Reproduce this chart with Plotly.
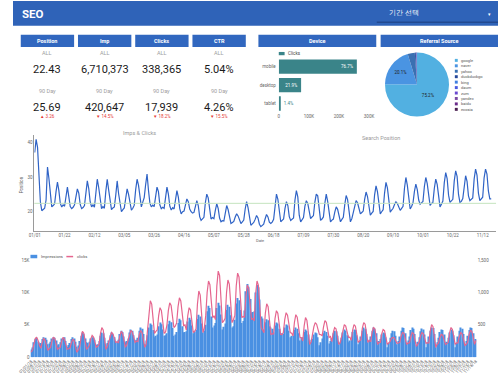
import plotly.graph_objects as go
import pandas as pd

W, H = 500, 380
def X(px): return px / W
def Y(py): return 1 - py / H

# ---------------- data ----------------
kpi_names = ["Position", "Imp", "Clicks", "CTR"]
kpi_all = ["22.43", "6,710,373", "338,365", "5.04%"]
kpi_90 = ["25.69", "420,647", "17,939", "4.26%"]
kpi_delta = ["▲ 3.26", "▼ 14.5%", "▼ 18.2%", "▼ 15.5%"]
avg_position = 22.43

device_cats = ["mobile", "desktop", "tablet"]
device_clicks = [259500, 74200, 4665]

ref_labels = ["google", "naver", "yahoo", "duckduckgo", "bing", "daum", "zum", "yandex", "baidu", "ecosia"]
ref_share = [75.2, 20.1, 3.6, 0.5, 0.25, 0.15, 0.08, 0.05, 0.04, 0.03]
ref_colors = ["#52b0e1", "#4a94e2", "#3a70b2", "#26489a", "#3f7fe0", "#4a5ae0",
              "#6a48d0", "#7a4aa2", "#6a2a8a", "#4a2050"]

position = [
    37.1, 40.9, 38.6, 30.2, 22.8, 20.3, 20.6,
    21.0, 23.4, 32.9, 29.6, 24.5, 21.4, 21.8,
    22.3, 25.8, 28.6, 26.1, 22.4, 21.4, 22.0,
    21.6, 24.9, 27.1, 24.3, 21.5, 20.9, 21.3,
    22.0, 24.2, 26.6, 25.4, 22.1, 20.9, 21.2,
    21.8, 25.6, 28.9, 26.7, 22.9, 21.4, 22.0,
    21.3, 26.2, 29.4, 27.0, 23.1, 20.9, 21.5,
    21.0, 25.9, 29.4, 26.3, 22.6, 20.6, 21.1,
    21.4, 24.8, 28.9, 25.2, 21.7, 20.0, 20.6,
    21.1, 23.9, 26.6, 25.0, 22.3, 20.5, 21.0,
    21.9, 26.4, 29.4, 27.6, 24.0, 21.4, 22.8,
    24.1, 27.8, 30.9, 26.2, 22.5, 21.4, 21.9,
    21.5, 24.7, 27.1, 25.8, 22.0, 20.9, 21.3,
    21.0, 24.3, 27.1, 25.1, 21.6, 20.5, 21.2,
    20.8, 23.6, 26.1, 24.2, 20.9, 19.4, 20.0,
    20.2, 22.1, 23.7, 22.9, 20.8, 20.0, 19.6,
    19.8, 21.6, 23.2, 21.8, 18.6, 17.5, 18.0,
    18.4, 22.6, 25.1, 24.0, 20.1, 17.9, 18.3,
    18.0, 20.4, 22.3, 21.0, 18.2, 17.1, 17.4,
    17.3, 19.8, 21.8, 20.6, 17.9, 16.6, 16.9,
    17.2, 18.5, 19.4, 18.8, 17.3, 16.6, 17.1,
    17.6, 20.8, 22.9, 21.2, 17.8, 16.1, 16.5,
    16.9, 17.8, 18.9, 18.2, 16.4, 15.7, 16.0,
    16.4, 17.9, 19.2, 18.5, 17.0, 16.6, 17.0,
    17.8, 22.3, 25.1, 23.6, 19.2, 17.1, 17.5,
    17.9, 21.0, 22.9, 21.8, 18.6, 17.5, 17.8,
    18.2, 23.4, 26.1, 24.3, 19.0, 17.1, 17.6,
    18.3, 21.6, 23.2, 22.4, 19.5, 18.0, 18.5,
    18.9, 22.8, 25.1, 24.6, 21.0, 17.5, 17.9,
    18.5, 22.4, 25.1, 23.0, 19.2, 17.1, 17.6,
    17.9, 19.9, 21.4, 20.7, 18.3, 17.1, 17.8,
    18.4, 22.0, 24.7, 23.5, 19.6, 17.1, 18.0,
    19.8, 21.9, 23.2, 22.6, 20.5, 19.4, 19.8,
    20.2, 23.6, 25.7, 24.4, 21.0, 19.0, 19.6,
    20.1, 24.9, 27.5, 25.8, 21.6, 19.4, 20.0,
    20.6, 25.4, 28.5, 26.9, 22.3, 19.9, 20.5,
    21.0, 22.1, 22.9, 22.4, 21.1, 20.4, 21.0,
    21.6, 26.8, 29.9, 27.7, 23.0, 20.8, 21.5,
    22.6, 25.9, 28.0, 26.4, 23.4, 22.2, 22.6,
    23.0, 27.3, 29.9, 28.1, 23.9, 21.8, 22.4,
    22.7, 26.8, 29.4, 27.9, 23.6, 21.4, 22.2,
    23.1, 28.4, 31.3, 29.6, 24.8, 22.7, 23.2,
    23.6, 28.9, 31.8, 30.2, 25.0, 22.7, 23.0,
    23.8, 27.6, 30.4, 28.8, 24.6, 23.2, 23.7,
    24.0, 29.5, 32.3, 30.6, 25.4, 23.2, 23.6,
    24.2, 29.8, 32.3, 30.9, 26.0, 23.7, 23.7,
]

impressions = [
    1200, 1500, 2300, 2800, 3000, 2400, 2000,
    2200, 2800, 3100, 3000, 2700, 2000, 2100,
    2400, 2900, 3100, 3000, 2600, 1800, 2000,
    2300, 2900, 3000, 3100, 2500, 1600, 1900,
    2200, 2800, 3100, 2900, 2400, 1600, 1800,
    2500, 3300, 3800, 3600, 2900, 2300, 2200,
    2400, 2900, 3100, 3000, 2700, 1900, 2000,
    2500, 3300, 3800, 3700, 3000, 2000, 2200,
    2600, 3400, 3800, 3600, 3100, 2300, 2400,
    2700, 3600, 4100, 3900, 3200, 2300, 2500,
    2900, 3800, 4300, 4100, 3400, 2600, 2700,
    3000, 4100, 4600, 4400, 3600, 2000, 2600,
    3400, 4600, 5200, 5000, 4200, 3100, 3300,
    3500, 4800, 5350, 5100, 4300, 3300, 3400,
    3700, 5100, 5650, 5400, 4500, 3300, 3500,
    3900, 5300, 5950, 5700, 4800, 3800, 3900,
    4000, 5500, 6100, 5800, 4900, 3700, 3900,
    4200, 5900, 6550, 6300, 5200, 3800, 4100,
    5000, 7100, 7950, 7600, 6300, 4600, 4900,
    5300, 7600, 8400, 8000, 6600, 4300, 4700,
    5200, 7300, 8100, 7800, 6500, 4600, 4800,
    5800, 8300, 9150, 8800, 7300, 5300, 5600,
    7200, 10200, 11300, 10900, 9000, 6800, 7000,
    7100, 10000, 11150, 10800, 8900, 6300, 6000,
    4300, 5400, 5850, 5700, 4800, 4600, 4400,
    3800, 4900, 5350, 5200, 4400, 3500, 3700,
    3600, 4600, 5050, 4900, 4100, 3100, 3300,
    3300, 4200, 4600, 4400, 3700, 2600, 3000,
    3100, 3900, 4300, 4100, 3500, 2300, 2700,
    2800, 3500, 3800, 3700, 3100, 1850, 2300,
    2900, 3700, 4100, 3900, 3300, 2100, 2500,
    2900, 3700, 4100, 4000, 3300, 2000, 2400,
    3000, 3800, 4300, 4100, 3400, 2300, 2600,
    3000, 3900, 4300, 4200, 3400, 2000, 2500,
    3200, 4100, 4600, 4400, 3600, 2300, 2700,
    3200, 4100, 4600, 4400, 3700, 1850, 2500,
    2800, 3500, 3800, 3700, 3100, 1550, 2200,
    3000, 3700, 4100, 4000, 3300, 2000, 2500,
    3200, 4100, 4600, 4500, 3700, 2100, 2600,
    3200, 4200, 4600, 4400, 3600, 1850, 2400,
    3100, 4000, 4450, 4300, 3500, 1550, 2300,
    3200, 4100, 4600, 4500, 3600, 1550, 2300,
    3000, 3900, 4300, 4200, 3500, 1850, 2400,
    3000, 3800, 4300, 4100, 3400, 1550, 2200,
    3200, 4100, 4600, 4400, 3600, 2000, 2500,
    3300, 4200, 4600, 4500, 3700, 2300, 2800,
]

clicks = [
    80, 110, 200, 290, 306, 260, 180,
    140, 230, 290, 270, 190, 107, 130,
    150, 250, 306, 290, 200, 122, 140,
    150, 240, 306, 280, 190, 122, 130,
    140, 220, 275, 260, 170, 76, 110,
    160, 300, 398, 370, 240, 122, 150,
    180, 280, 336, 310, 230, 153, 170,
    200, 360, 459, 420, 280, 122, 160,
    240, 330, 382, 360, 290, 229, 240,
    220, 330, 398, 370, 260, 153, 190,
    260, 350, 413, 390, 300, 229, 250,
    240, 350, 413, 380, 270, 153, 200,
    420, 700, 872, 820, 600, 367, 400,
    420, 640, 765, 720, 560, 367, 390,
    500, 720, 841, 800, 640, 459, 480,
    530, 780, 917, 870, 680, 489, 500,
    420, 640, 765, 730, 560, 382, 400,
    440, 820, 1024, 960, 700, 382, 450,
    650, 1000, 1177, 1120, 880, 612, 640,
    580, 1100, 1330, 1260, 950, 535, 560,
    600, 1000, 1193, 1130, 880, 535, 580,
    650, 1100, 1300, 1240, 950, 612, 630,
    620, 950, 1116, 1060, 820, 581, 600,
    560, 980, 1177, 1110, 800, 459, 420,
    380, 680, 826, 780, 560, 352, 360,
    360, 600, 719, 680, 500, 352, 350,
    380, 580, 688, 650, 500, 382, 370,
    330, 540, 657, 620, 450, 306, 300,
    250, 480, 612, 570, 380, 199, 230,
    370, 470, 535, 510, 430, 352, 350,
    330, 470, 566, 540, 420, 306, 320,
    240, 380, 459, 440, 320, 199, 220,
    330, 440, 505, 480, 400, 306, 310,
    260, 420, 505, 480, 350, 229, 250,
    270, 450, 535, 510, 370, 229, 260,
    240, 380, 459, 440, 320, 199, 230,
    230, 360, 428, 410, 310, 199, 220,
    240, 290, 306, 300, 260, 214, 220,
    230, 330, 382, 370, 280, 199, 220,
    220, 320, 382, 360, 270, 168, 200,
    230, 330, 382, 360, 280, 214, 220,
    220, 400, 505, 470, 320, 153, 200,
    220, 310, 352, 340, 270, 199, 210,
    230, 380, 459, 430, 310, 199, 220,
    220, 320, 382, 360, 280, 183, 200,
    230, 350, 413, 400, 300, 199, 260,
]

dates = pd.date_range("2018-01-01", periods=len(position), freq="D")
DAY = 86400000

# ---------------- styles ----------------
BLUE_HDR = "#2f63b8"
BLUE_BOX = "#3167bf"
FONT = "Roboto, Arial, sans-serif"
shapes, annos = [], []

def rect(x0, y0, x1, y1, color):
    shapes.append(dict(type="rect", xref="paper", yref="paper", x0=X(x0), x1=X(x1),
                       y0=Y(y1), y1=Y(y0), fillcolor=color, line=dict(width=0), layer="below"))

def txt(x, y, s, size, color="#222", anchor="center", bold=False, angle=0):
    annos.append(dict(x=X(x), y=Y(y), xref="paper", yref="paper", text=s, showarrow=False,
                      xanchor=anchor, yanchor="middle", textangle=angle,
                      font=dict(size=size, color=color, family=FONT,
                                weight="bold" if bold else "normal")))

# header
rect(0, 0, 500, 25, BLUE_HDR)
txt(7, 13, "SEO", 11.5, "white", "left", bold=True)
shapes.append(dict(type="line", xref="paper", yref="paper", x0=X(375), x1=X(500),
                   y0=Y(21.5), y1=Y(21.5), line=dict(color="#22498f", width=1.5)))
txt(386, 12.5, "기간 선택", 6.5, "white", "left")
txt(491, 13, "▾", 5, "white")

# KPI
kpi_x = [(8, 63), (67, 122), (126, 181), (185, 240)]
for (a, b), name, v_all, v_90, dlt in zip(kpi_x, kpi_names, kpi_all, kpi_90, kpi_delta):
    rect(a, 34, b, 46.5, BLUE_BOX)
    c = (a + b) / 2
    txt(c, 40.3, name, 5.5, "white", bold=True)
    txt(c, 53, "ALL", 5.5, "#9e9e9e")
    txt(c, 69.5, v_all, 11, "#1a1a1a")
    txt(c, 91, "90 Day", 5.5, "#9e9e9e")
    txt(c, 108, v_90, 11, "#1a1a1a")
    txt(c, 117, dlt, 4.5, "#e53935")

# device & referral headers
rect(253, 34, 374.5, 46.5, BLUE_BOX)
txt(313.5, 40.3, "Device", 5.5, "white", bold=True)
rect(379, 34, 500, 46.5, BLUE_BOX)
txt(439.5, 40.3, "Referral Source", 5.5, "white", bold=True)

# device legend
rect(274, 51.5, 280, 54.8, "#3a8489")
txt(281.5, 53, "Clicks", 4.5, "#444", "left")

# pie legend
for i, (lab, col) in enumerate(zip(ref_labels, ref_colors)):
    yy = 60 + 5.5 * i
    rect(455.5, yy - 1.5, 458.5, yy + 1.5, col)
    txt(460, yy, lab, 4, "#555", "left")

# chart titles
txt(130, 133, "Imps & Clicks", 5.5, "#9a9a9a")
txt(379, 138, "Search Position", 5.5, "#9a9a9a")
txt(255, 242, "Date", 4, "#666")
txt(8.5, 186, "Position", 4.5, "#666", angle=-90)

# bottom legend
rect(18, 256.5, 25, 260, "#4a90e2")
txt(26.5, 258.3, "Impressions", 4, "#555", "left")
shapes.append(dict(type="line", xref="paper", yref="paper", x0=X(55), x1=X(62),
                   y0=Y(258.3), y1=Y(258.3), line=dict(color="#e5668f", width=1.5)))
txt(63.5, 258.3, "clicks", 4, "#555", "left")

# average position line
shapes.append(dict(type="line", xref="x2 domain", yref="y2", x0=0, x1=1,
                   y0=avg_position, y1=avg_position, line=dict(color="#c5e4bf", width=1)))

fig = go.Figure()

# device bars
total_dev = sum(device_clicks)
dev_text = [f"{v / total_dev * 100:.1f}%" for v in device_clicks]
fig.add_trace(go.Bar(
    x=device_clicks, y=device_cats, orientation="h", xaxis="x", yaxis="y",
    marker=dict(color="#3a8489", line=dict(width=0)), width=0.78,
    text=dev_text, textposition=["inside", "inside", "outside"],
    insidetextanchor="end", textfont=dict(size=4.5),
    insidetextfont=dict(color="white", size=4.5),
    outsidetextfont=dict(color="#3a8489", size=4.5),
    cliponaxis=False, showlegend=False, hoverinfo="skip"))

# pie
total_ref = sum(ref_share)
pie_text = [f"{v / total_ref * 100:.1f}%" if v / total_ref > 0.1 else "" for v in ref_share]
fig.add_trace(go.Pie(
    values=ref_share, labels=ref_labels, sort=False, direction="clockwise", rotation=0,
    marker=dict(colors=ref_colors, line=dict(width=0)),
    text=pie_text, textinfo="text", textposition="inside",
    textfont=dict(size=4.5, color="#222"),
    domain=dict(x=[X(383.5), X(449.5)], y=[Y(117.5), Y(51.5)]),
    showlegend=False, hoverinfo="skip"))

# position line
fig.add_trace(go.Scatter(
    x=dates, y=position, mode="lines", xaxis="x2", yaxis="y2",
    line=dict(color="#2f63c6", width=1.2), showlegend=False, hoverinfo="skip"))

# impressions bars + clicks line
fig.add_trace(go.Bar(
    x=dates, y=impressions, xaxis="x3", yaxis="y3",
    marker=dict(color="#4a90e2", line=dict(width=0)), showlegend=False, hoverinfo="skip"))
fig.add_trace(go.Scatter(
    x=dates, y=clicks, mode="lines", xaxis="x3", yaxis="y4",
    line=dict(color="#e5668f", width=1.2), showlegend=False, hoverinfo="skip"))

tickf = dict(size=4.5, color="#666", family=FONT)
d0 = dates[0]
dN = dates[-1]

fig.update_layout(
    width=W, height=H, margin=dict(l=0, r=0, t=0, b=0),
    paper_bgcolor="white", plot_bgcolor="white",
    font=dict(family=FONT), bargap=0.2,
    shapes=shapes, annotations=annos,
    xaxis=dict(domain=[X(274), X(372)], range=[0, 316000], anchor="y",
               tickvals=[0, 100000, 200000, 300000], ticktext=["0", "100K", "200K", "300K"],
               tickfont=tickf, showgrid=False, zeroline=False, showline=False, ticks=""),
    yaxis=dict(domain=[Y(113), Y(57)], anchor="x", categoryorder="array",
               categoryarray=device_cats[::-1], tickfont=tickf, showgrid=False,
               ticks="", ticklabelstandoff=2),
    xaxis2=dict(domain=[X(22), X(498)], anchor="y2", type="date",
                range=[d0 - pd.Timedelta(hours=6), d0 + pd.Timedelta(days=324.4)],
                tick0=d0, dtick=21 * DAY, tickformat="%m/%d", tickfont=tickf,
                showgrid=False, zeroline=False, showline=True, linecolor="#9a9a9a",
                linewidth=1, ticks=""),
    yaxis2=dict(domain=[Y(232), Y(135)], anchor="x2", range=[14.57, 42.29],
                tickvals=[20, 30, 40], tickfont=tickf, showgrid=False, zeroline=False,
                showline=True, linecolor="#9a9a9a", linewidth=1, ticks=""),
    xaxis3=dict(domain=[X(18), X(478)], anchor="y3", type="date",
                range=[d0 - pd.Timedelta(hours=12), dN + pd.Timedelta(hours=12)],
                tick0=d0, dtick=3 * DAY, tickformat="%m/%d/%y", tickangle=-45,
                tickfont=dict(size=4, color="#555", family=FONT),
                showgrid=False, zeroline=False, showline=False, ticks=""),
    yaxis3=dict(domain=[Y(360), Y(260)], anchor="x3", range=[0, 15290],
                tickvals=[0, 5000, 10000, 15000], ticktext=["0", "5K", "10K", "15K"],
                tickfont=tickf, showgrid=False, zeroline=False, ticks=""),
    yaxis4=dict(overlaying="y3", side="right", anchor="x3", range=[0, 1529],
                tickvals=[500, 1000, 1500], ticktext=["500", "1,000", "1,500"],
                tickfont=tickf, showgrid=False, zeroline=False, ticks=""),
)

fig.write_html(
    "out.html",
    config={"responsive": False, "displayModeBar": False},
    post_script="document.body.style.margin='0';document.body.style.overflow='hidden';",
)
